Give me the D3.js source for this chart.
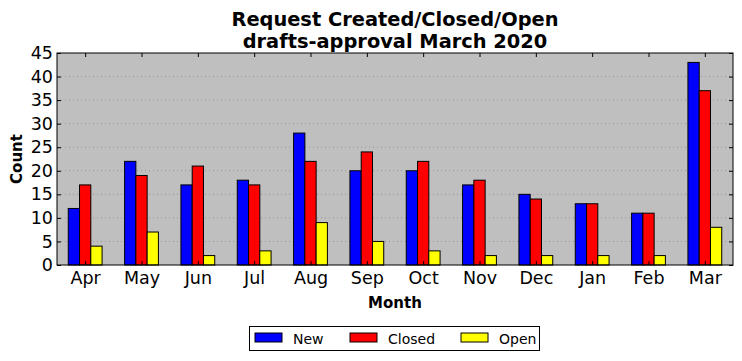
<!DOCTYPE html>
<html><head><meta charset="utf-8">
<script src="https://cdn.jsdelivr.net/npm/d3@7"></script>
<style>body{margin:0;background:#fff}svg{display:block;font-family:"DejaVu Sans",sans-serif}</style>
</head><body><svg id="c" width="742" height="361"></svg>
<script>
const months = ["Apr","May","Jun","Jul","Aug","Sep","Oct","Nov","Dec","Jan","Feb","Mar"];
const seriesNames = ["New","Closed","Open"];
const colors = ["#0000ff","#ff0000","#ffff00"];
const newVals = [12,22,17,18,28,20,20,17,15,13,11,43];
const closedVals = [17,19,21,17,22,24,22,18,14,13,11,37];
const openVals = [4,7,2,3,9,5,3,2,2,2,2,8];
const yTicks = [0,5,10,15,20,25,30,35,40,45];
const titleLines = ["Request Created/Closed/Open","drafts-approval March 2020"];

const series = [newVals, closedVals, openVals];
const svg = d3.select("#c");
const L=57, R=733, T=53, B=265;
const x = d3.scaleLinear().domain([-0.5, months.length-0.5]).range([L,R]);
const y = d3.scaleLinear().domain([0,45]).range([B,T]);

svg.append("rect").attr("x",L).attr("y",T).attr("width",R-L).attr("height",B-T).attr("fill","#bfbfbf");
// grid
svg.append("g").selectAll("line").data(yTicks.slice(1,-1)).join("line")
  .attr("x1",L).attr("x2",R).attr("y1",d=>y(d)).attr("y2",d=>y(d))
  .attr("stroke","#8a8a8a").attr("stroke-width",0.8).attr("stroke-dasharray","1,3");
// bars
const bw = 0.2;
series.forEach((vals,si)=>{
  svg.append("g").selectAll("rect").data(vals).join("rect")
    .attr("x",(d,i)=>x(i-0.3+si*bw)).attr("width",x(bw)-x(0))
    .attr("y",d=>y(d)).attr("height",d=>y(0)-y(d))
    .attr("fill",colors[si]).attr("stroke","#000").attr("stroke-width",1);
});
// axes
const fs = 17.5;
const ax = svg.append("g").attr("transform",`translate(0,${B})`)
  .call(d3.axisBottom(x).tickValues(d3.range(months.length)).tickFormat(i=>months[i]).tickSizeInner(-4).tickSizeOuter(0).tickPadding(7));
const ay = svg.append("g").attr("transform",`translate(${L},0)`)
  .call(d3.axisLeft(y).tickValues(yTicks).tickSizeInner(-4).tickSizeOuter(0).tickPadding(4));
const at = svg.append("g").attr("transform",`translate(0,${T})`)
  .call(d3.axisTop(x).tickValues(d3.range(months.length)).tickFormat("").tickSizeInner(-4).tickSizeOuter(0));
const ar = svg.append("g").attr("transform",`translate(${R},0)`)
  .call(d3.axisRight(y).tickValues(yTicks).tickFormat("").tickSizeInner(-4).tickSizeOuter(0));
[ax,ay,at,ar].forEach(g=>{g.select(".domain").remove();g.selectAll("text").attr("font-size",fs).attr("fill","#000").attr("font-family","DejaVu Sans");g.selectAll("line").attr("stroke","#000");});
svg.append("rect").attr("x",L).attr("y",T).attr("width",R-L).attr("height",B-T).attr("fill","none").attr("stroke","#000").attr("stroke-width",1);
// titles
svg.append("g").selectAll("text").data(titleLines).join("text")
  .attr("x",(L+R)/2).attr("y",(d,i)=>26+i*22).attr("text-anchor","middle")
  .attr("font-size",19.4).attr("font-weight","bold").text(d=>d);
svg.append("text").attr("x",(L+R)/2).attr("y",308).attr("text-anchor","middle").attr("font-size",15).attr("font-weight","bold").text("Month");
svg.append("text").attr("transform",`translate(22,${(T+B)/2}) rotate(-90)`).attr("text-anchor","middle").attr("font-size",15).attr("font-weight","bold").text("Count");
// legend
const lg = svg.append("g");
lg.append("rect").attr("x",249.5).attr("y",326.5).attr("width",290).attr("height",24).attr("fill","#fff").attr("stroke","#000");
const lx = [255,350,461];
seriesNames.forEach((n,i)=>{
  lg.append("rect").attr("x",lx[i]).attr("y",333).attr("width",27).attr("height",9).attr("fill",colors[i]).attr("stroke","#000");
  lg.append("text").attr("x",lx[i]+38).attr("y",343.5).attr("font-size",14).text(n);
});
</script></body></html>
